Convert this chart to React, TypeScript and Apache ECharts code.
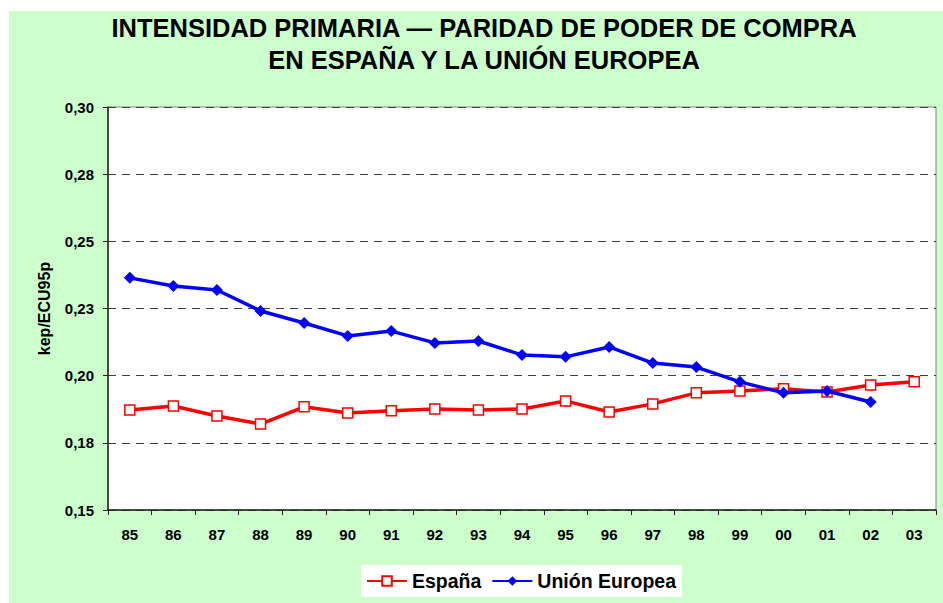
import React, { useEffect, useRef } from "react";
import * as echarts from "echarts";

const years = ["85","86","87","88","89","90","91","92","93","94","95","96","97","98","99","00","01","02","03"];
const espana = [0.1872,0.1887,0.1850,0.1820,0.1884,0.1861,0.1869,0.1876,0.1872,0.1876,0.1906,0.1865,0.1895,0.1936,0.1943,0.1951,0.1939,0.1965,0.1977];
const unionEuropea = [0.2364,0.2334,0.2319,0.2241,0.2196,0.2148,0.2166,0.2122,0.2129,0.2077,0.2070,0.2107,0.2047,0.2032,0.1977,0.1936,0.1943,0.1902,null];
const yTickLabels = ["0,15","0,18","0,20","0,23","0,25","0,28","0,30"];

const FONT = "Liberation Sans, Arial, Helvetica, sans-serif";

export default function App() {
  const ref = useRef<HTMLDivElement>(null);
  useEffect(() => {
    if (!ref.current) return;
    const chart = echarts.init(ref.current, undefined, { renderer: "svg" });
    chart.setOption({
      animation: false,
      backgroundColor: "#ccffcc",
      textStyle: { fontFamily: FONT },
      graphic: [
        {
          type: "text",
          x: 475,
          y: 1,
          style: {
            text: "INTENSIDAD PRIMARIA — PARIDAD DE PODER DE COMPRA\nEN ESPAÑA Y LA UNIÓN EUROPEA",
            textAlign: "center",
            textVerticalAlign: "top",
            fontFamily: FONT,
            fontWeight: "bold",
            fontSize: 25.5,
            lineHeight: 32,
            fill: "#000",
          },
        },
      ],
      grid: {
        left: 99,
        top: 96,
        right: 7,
        bottom: 93,
        show: true,
        backgroundColor: "#ffffff",
        borderColor: "#808080",
        borderWidth: 1,
      },
      legend: {
        left: 352,
        top: 554,
        padding: [6, 6, 6, 5],
        backgroundColor: "#ffffff",
        itemWidth: 40,
        itemHeight: 12,
        itemGap: 10,
        textStyle: { fontFamily: FONT, fontWeight: "bold", fontSize: 19.5, color: "#000" },
        data: ["España", "Unión Europea"],
      },
      xAxis: {
        type: "category",
        data: years,
        boundaryGap: true,
        axisLine: { lineStyle: { color: "#222", width: 1.5 } },
        axisTick: { show: true, length: 5, lineStyle: { color: "#222" } },
        axisLabel: { color: "#000", fontWeight: "bold", fontSize: 15, margin: 17, fontFamily: FONT },
      },
      yAxis: {
        type: "value",
        min: 0.15,
        max: 0.3,
        interval: 0.025,
        name: "kep/ECU95p",
        nameLocation: "middle",
        nameGap: 56,
        nameRotate: 90,
        nameTextStyle: { color: "#000", fontWeight: "bold", fontSize: 16, fontFamily: FONT },
        axisLine: { show: true, lineStyle: { color: "#222", width: 1.5 } },
        axisTick: { show: true, length: 5, lineStyle: { color: "#222" } },
        axisLabel: {
          color: "#000",
          fontWeight: "bold",
          fontSize: 15,
          margin: 14,
          fontFamily: FONT,
          formatter: (_v: number, i: number) => yTickLabels[i] ?? "",
        },
        splitLine: { show: true, lineStyle: { color: "#404040", type: [8, 6], width: 1 } },
      },
      series: [
        {
          name: "España",
          type: "line",
          data: espana,
          symbol: "rect",
          symbolSize: 10,
          showAllSymbol: true,
          lineStyle: { color: "#ff0000", width: 3.5 },
          itemStyle: { color: "#ffffff", borderColor: "#ff0000", borderWidth: 1.5 },
          z: 2,
        },
        {
          name: "Unión Europea",
          type: "line",
          data: unionEuropea,
          symbol: "diamond",
          symbolSize: 12,
          showAllSymbol: true,
          lineStyle: { color: "#0000ff", width: 3.5 },
          itemStyle: { color: "#0000ff" },
          z: 3,
        },
      ],
    });
    return () => chart.dispose();
  }, []);
  return (
    <div
      ref={ref}
      style={{ position: "fixed", left: 9, top: 11, width: 934, height: 592 }}
    />
  );
}
